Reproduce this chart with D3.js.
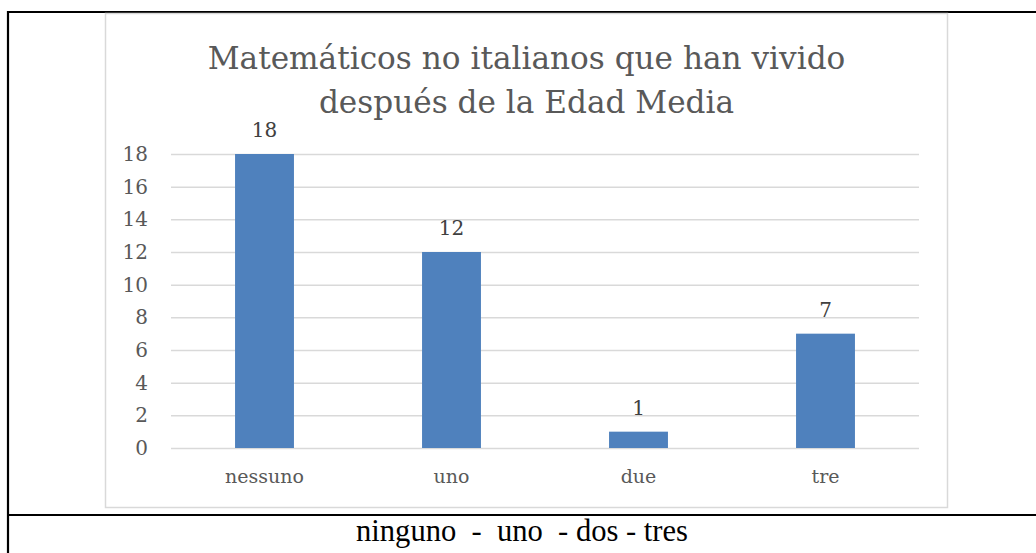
<!DOCTYPE html>
<html>
<head>
<meta charset="utf-8">
<script src="https://cdnjs.cloudflare.com/ajax/libs/d3/7.8.5/d3.min.js"></script>
<style>
  body { margin: 0; background: #fff; }
  svg { display: block; }
</style>
</head>
<body>
<div id="chart_area"></div>
<script>
// Data.
var categories = ["nessuno", "uno", "due", "tre"];
var values = [18, 12, 1, 7];
var y_ticks = [0, 2, 4, 6, 8, 10, 12, 14, 16, 18];
var title_lines = ["Matemáticos no italianos que han vivido", "después de la Edad Media"];
var caption = "ninguno  -  uno  - dos - tres";

var frame_width = 1036;
var frame_height = 553;
var label_font = "DejaVu Serif";
var text_grey = "#595959";

var frame = d3.select("#chart_area").append("svg")
	.attr("width", frame_width)
	.attr("height", frame_height);

// Table lines around the chart and the caption row.
var table = frame.append("g").attr("stroke", "#000").attr("stroke-width", 2.2);
table.append("line").attr("x1", 8).attr("x2", frame_width).attr("y1", 12).attr("y2", 12);
table.append("line").attr("x1", 8).attr("x2", 8).attr("y1", 11).attr("y2", frame_height);
table.append("line").attr("x1", 8).attr("x2", frame_width).attr("y1", 515).attr("y2", 515);

// Chart border.
frame.append("rect")
	.attr("x", 105.5).attr("y", 13.5)
	.attr("width", 842).attr("height", 494)
	.attr("fill", "none")
	.attr("stroke", "#d9d9d9")
	.attr("stroke-width", 1.5);

// Plot area.
var plot = {left: 171, right: 919, top: 154, bottom: 448};

var xScale = d3.scaleBand()
	.domain(categories)
	.range([plot.left, plot.right])
	.paddingInner(0.685)
	.paddingOuter(0.3425);

var yScale = d3.scaleLinear()
	.domain([0, 18])
	.range([plot.bottom, plot.top]);

// Gridlines through the axis, then strip the domain line.
var yAxis = d3.axisLeft(yScale)
	.tickValues(y_ticks)
	.tickSize(-(plot.right - plot.left))
	.tickPadding(23);

var y_axis_g = frame.append("g")
	.attr("transform", "translate(" + plot.left + ",0)")
	.call(yAxis);
y_axis_g.select(".domain").remove();
y_axis_g.selectAll(".tick line")
	.attr("stroke", "#d9d9d9")
	.attr("stroke-width", 1.5);
y_axis_g.selectAll(".tick text")
	.attr("fill", text_grey)
	.style("font-family", label_font)
	.style("font-size", "20px");

// Category labels.
var xAxis = d3.axisBottom(xScale).tickSize(0).tickPadding(22);
var x_axis_g = frame.append("g")
	.attr("transform", "translate(0," + plot.bottom + ")")
	.call(xAxis);
x_axis_g.select(".domain").remove();
x_axis_g.selectAll(".tick text")
	.attr("fill", text_grey)
	.style("font-family", label_font)
	.style("font-size", "19px");

// Bars.
frame.append("g").selectAll("rect")
	.data(values)
	.enter().append("rect")
	.attr("x", function(d, i) { return xScale(categories[i]); })
	.attr("y", function(d) { return yScale(d); })
	.attr("width", xScale.bandwidth())
	.attr("height", function(d) { return yScale(0) - yScale(d); })
	.attr("fill", "#4f81bd");

// Value labels above bars.
frame.append("g").selectAll("text")
	.data(values)
	.enter().append("text")
	.attr("x", function(d, i) { return xScale(categories[i]) + xScale.bandwidth() / 2; })
	.attr("y", function(d) { return yScale(d) - 17; })
	.attr("text-anchor", "middle")
	.attr("fill", "#404040")
	.style("font-family", label_font)
	.style("font-size", "20px")
	.text(function(d) { return d; });

// Title, sized so line one spans the same width as the picture.
var title = frame.append("g");
var title_center = 526.5;
var title_text = title.selectAll("text")
	.data(title_lines)
	.enter().append("text")
	.attr("x", title_center)
	.attr("y", function(d, i) { return 69 + i * 44; })
	.attr("text-anchor", "middle")
	.attr("fill", text_grey)
	.style("font-family", label_font)
	.style("font-size", "100px")
	.text(function(d) { return d; });
var title_w = title_text.node().getComputedTextLength();
title_text.style("font-size", (100 * 638 / title_w) + "px");

// Caption row.
var cap = frame.append("text")
	.attr("x", 522)
	.attr("y", 541)
	.attr("text-anchor", "middle")
	.attr("fill", "#000")
	.attr("xml:space", "preserve")
	.style("white-space", "pre")
	.style("font-family", "Liberation Serif")
	.style("font-size", "100px")
	.text(caption);
var cap_w = cap.node().getComputedTextLength();
cap.style("font-size", (100 * 332 / cap_w) + "px");
</script>
</body>
</html>
